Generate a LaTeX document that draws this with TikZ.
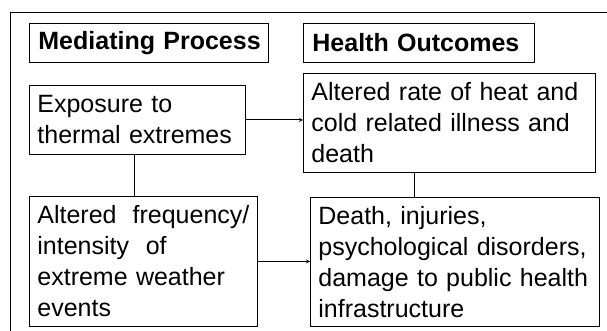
\documentclass[tikz,border=0pt]{standalone}
\usepackage{fontspec}
\setmainfont{Liberation Sans}
\hyphenpenalty=10000

\begin{document}
\begin{tikzpicture}[x=1pt, y=-1pt]
	\useasboundingbox (0,0) rectangle (607,331);
	\tikzstyle{every node}=[draw, line width=0.8pt, anchor=north west, align=left,
		inner xsep=8pt, inner ysep=0pt, font=\fontsize{25}{31}\selectfont]
	\tikzstyle{head}=[font=\fontsize{25}{30}\selectfont\bfseries, inner xsep=9pt]

	% outer frame, cut by the page
	\draw [line width=1.0pt] (10,340) -- (10,13) -- (615,13);

	\node[head, text width=221pt, minimum height=39pt] (medhead) at (29,23) {\mbox{Mediating Process}};
	\node[head, text width=213pt, minimum height=39pt] (outhead) at (303,23) {\mbox{Health Outcomes}};

	\node[text width=200pt, minimum height=69pt] (expo) at (29,85) {Exposure to\\thermal extremes};
	\node[text width=276pt, minimum height=99pt] (rate) at (303,73) {Altered rate of heat and\\cold related illness and\\death};
	\node[text width=212pt, minimum height=130pt] (freq) at (29,196) {\hbox to 212pt{Altered\hfill frequency/}\\intensity\ \ of\\extreme weather\\events};
	\node[text width=273pt, minimum height=129pt] (death) at (310,197) {Death, injuries,\\psychological disorders,\\damage to public health\\infrastructure};

	\draw [line width=0.8pt][-stealth] (expo.east) -- (rate.west |- expo.east);
	\draw [line width=0.8pt][-stealth] (freq.east) -- (death.west |- freq.east);
	\draw [line width=0.8pt] ([xshift=-3pt]expo.south) -- ([xshift=-3pt]expo.south |- freq.north);
	\draw [line width=0.8pt] ([xshift=-35pt]rate.south) -- ([xshift=-35pt]rate.south |- death.north);
\end{tikzpicture}
\end{document}
